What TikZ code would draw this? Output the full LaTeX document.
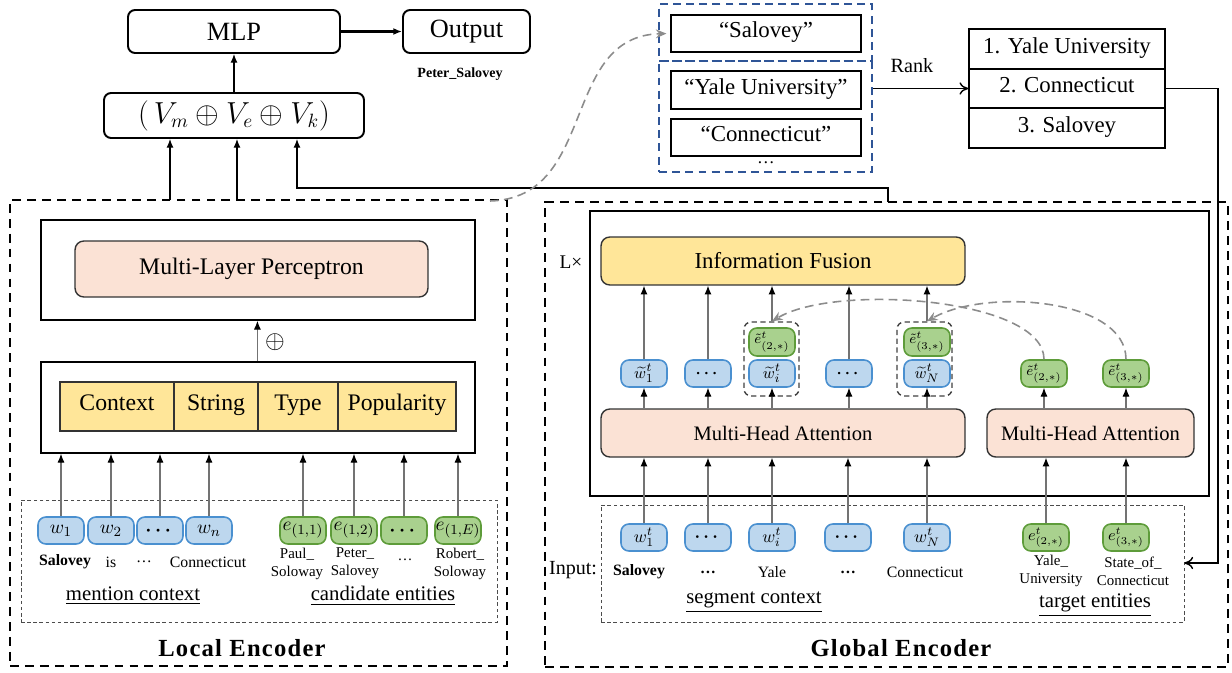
\documentclass[tikz,border=0pt]{standalone}
\usepackage{amsmath}
\usepackage{fontspec}
\setmainfont{Liberation Serif}
\usetikzlibrary{arrows.meta,calc}

\definecolor{tokblue}{HTML}{BDD7EE}
\definecolor{tokblueline}{HTML}{4A90D0}
\definecolor{tokgreen}{HTML}{A9D18E}
\definecolor{tokgreenline}{HTML}{5E9C3A}
\definecolor{fillyellow}{HTML}{FFE699}
\definecolor{fillpink}{HTML}{FBE2D5}
\definecolor{candblue}{HTML}{2F5597}
\definecolor{linkgray}{HTML}{8C8C8C}

\newcommand\fs[1]{\fontsize{#1}{#1}\selectfont}
\newcommand\fsz[2]{\fontsize{#1}{#2}\selectfont}

\tikzset{
  evenline/.style={text height=0.72em, text depth=0.22em},
  topbox/.style={draw, line width=1.1pt, rounded corners=4pt, inner sep=0pt, font=\fs{15}},
  candbox/.style={draw, line width=1.2pt, inner sep=0pt, minimum width=3.8cm, minimum height=0.75cm, font=\fs{13}, evenline},
  candframe/.style={draw=candblue, line width=1.2pt, dash pattern=on 4.5pt off 3pt, inner sep=0pt, minimum width=4.26cm},
  rankrow/.style={draw, line width=0.8pt, minimum width=3.92cm, minimum height=0.8cm, inner sep=0pt, font=\fs{13}, evenline},
  encframe/.style={draw, line width=1.3pt, dash pattern=on 5pt off 3.5pt, inner sep=0pt},
  solidframe/.style={draw, line width=0.9pt, inner sep=0pt},
  pinkbox/.style={draw=black!80, line width=0.8pt, fill=fillpink, rounded corners=5pt, inner sep=0pt},
  fusebox/.style={draw=black!80, line width=0.8pt, fill=fillyellow, rounded corners=5pt, inner sep=0pt},
  yellowcell/.style={draw=black!80, line width=0.7pt, fill=fillyellow, minimum height=0.98cm, inner sep=0pt, font=\fs{13.5}, evenline},
  intok/.style={rounded corners=4.5pt, line width=0.9pt, minimum width=0.92cm, minimum height=0.54cm, inner sep=0pt},
  btok/.style={intok, draw=tokblueline, fill=tokblue},
  gtok/.style={intok, draw=tokgreenline, fill=tokgreen},
  inbox/.style={draw=black!70, line width=0.5pt, dash pattern=on 2pt off 1.5pt, inner sep=0pt},
  grpbox/.style={draw=black!75, line width=0.8pt, dash pattern=on 3pt off 2pt, rounded corners=4pt, minimum width=1.1cm, minimum height=1.48cm, inner sep=0pt},
  lbl/.style={inner sep=0pt, align=center, font=\fs{9}},
  elbl/.style={inner sep=0pt, align=center, font=\fsz{8.5}{10.2}},
  seclbl/.style={inner sep=0pt, font=\fs{11.8}},
  title/.style={inner sep=0pt, font=\fs{14}\bfseries\addfontfeatures{LetterSpace=5}},
  arr/.style={draw=black!55, line width=0.6pt, -{Latex[length=5pt,width=4pt,color=black]}},
  toparr/.style={line width=0.7pt, -{Latex[length=5pt,width=4pt]}},
  openarr/.style={line width=0.8pt, -{To[length=5pt,width=7pt]}},
  link/.style={draw=linkgray, line width=0.9pt, dash pattern=on 5pt off 3pt, -{Stealth[length=6pt,width=5pt]}}
}

\begin{document}
\begin{tikzpicture}[x=0.02cm,y=-0.02cm]
\useasboundingbox (0,0) rectangle (1232,673);

% ---------- prediction head ----------
\node[topbox, minimum width=4.24cm, minimum height=0.86cm] (mlp) at (234,31.5) {MLP};
\node[topbox, minimum width=2.54cm, minimum height=0.86cm] (out) at (466.5,31.5) {Output};
\draw[toparr, line width=1.4pt] (mlp) -- (out);
\node[inner sep=0pt, font=\fs{8}\bfseries] (pred) at (460,74) {Peter\_Salovey};
\node[topbox, minimum width=5.2cm, minimum height=0.9cm, font=\fs{16}] (vec) at (234,115.5) {$(\,V_m \oplus V_e \oplus V_k)$};
\draw[toparr] (vec) -- (mlp);

% ---------- candidate strings and ranking ----------
\node[candframe, minimum height=1.14cm] (ctop) at (765.5,32.5) {};
\node[candframe, minimum height=2.22cm] (cbot) at (765.5,116.5) {};
\node[candbox] (csal) at (766,33.5) {“Salovey”};
\node[candbox] (cyale) at (766,90) {“Yale University”};
\node[candbox] (cconn) at (766,137.5) {“Connecticut”};
\node[inner sep=0pt, font=\fs{10}] (cdots) at (766,163) {…};
\node[inner sep=0pt, font=\fs{11.5}] (ranklbl) at (912,66) {Rank};
\node[rankrow] (r1) at (1067,49) {1. Yale University};
\node[rankrow] (r2) at (1067,88.5) {2. Connecticut};
\node[rankrow] (r3) at (1067,128) {3. Salovey};
\draw[openarr] (r2.west -| cbot.east) -- (r2.west);

% ---------- local encoder ----------
\node[encframe, minimum width=9.94cm, minimum height=9.32cm] (lenc) at (258.5,433) {};
\node[solidframe, minimum width=8.68cm, minimum height=2cm] (lmlpc) at (258,270) {};
\node[pinkbox, minimum width=7.06cm, minimum height=1.12cm, font=\fs{13.5}] (lmlp) at (251.5,269) {Multi-Layer Perceptron};
\node[solidframe, minimum width=8.68cm, minimum height=1.82cm] (feat) at (258,407.5) {};
\node[yellowcell, minimum width=2.28cm] (fctx) at (117,406.5) {Context};
\node[yellowcell, minimum width=1.68cm] (fstr) at (216,406.5) {String};
\node[yellowcell, minimum width=1.6cm] (ftyp) at (298,406.5) {Type};
\node[yellowcell, minimum width=2.36cm] (fpop) at (397,406.5) {Popularity};
\draw[arr] (feat.north -| ftyp.west) -- (lmlpc.south -| ftyp.west);
\node[inner sep=0pt, font=\fs{14}] (cat) at (275,342) {$\oplus$};

\node[inbox, minimum width=9.52cm, minimum height=2.44cm] (lin) at (259,561) {};
\begin{scope}[every node/.append style={font=\fs{11}}]
\node[btok] (w1) at (61,530.5) {$w_1$};
\node[btok] (w2) at (111,530.5) {$w_2$};
\node[btok] (wd) at (160,530.5) {$\boldsymbol{\cdots}$};
\node[btok] (wn) at (209,530.5) {$w_n$};
\node[gtok] (e1) at (303,530.5) {$e_{(1,1)}$};
\node[gtok] (e2) at (354,530.5) {$e_{(1,2)}$};
\node[gtok] (ed) at (404,530.5) {$\boldsymbol{\cdots}$};
\node[gtok] (eE) at (458,530.5) {$e_{(1,E)}$};
\end{scope}
\foreach \t in {w1,w2,wd,wn,e1,e2,ed,eE}
  \draw[arr] (\t) -- (\t |- feat.south);

\node[lbl, font=\fs{9}\bfseries] (lw1) at (65,562) {Salovey};
\node[lbl] (lw2) at (111,562) {is};
\node[lbl] (lwd) at (144,562) {…};
\node[lbl] (lwn) at (208,562) {Connecticut};
\node[elbl] (le1) at (297,563.5) {Paul\_\\Soloway};
\node[elbl] (le2) at (355,563.5) {Peter\_\\Salovey};
\node[elbl] (led) at (405,560) {…};
\node[elbl] (leE) at (460,563.5) {Robert\_\\Soloway};
\node[seclbl] (mctx) at (133,596) {\underline{mention context}};
\node[seclbl] (cent) at (383,596) {\underline{candidate entities}};
\node[title] (ltitle) at (242,648) {Local Encoder};

% ---------- global encoder ----------
\node[encframe, minimum width=13.66cm, minimum height=9.3cm] (genc) at (886.5,434.5) {};
\node[solidframe, minimum width=12.38cm, minimum height=5.7cm] (gblk) at (899.5,353.5) {};
\node[inner sep=0pt, font=\fs{11}] (rep) at (571,262) {L×};
\node[fusebox, minimum width=7.28cm, minimum height=0.96cm, font=\fs{13}] (fuse) at (783,261) {Information Fusion};
\node[pinkbox, minimum width=7.28cm, minimum height=0.96cm, font=\fs{11.7}] (mha1) at (783,433) {Multi-Head Attention};
\node[pinkbox, minimum width=4.14cm, minimum height=0.96cm, font=\fs{11.7}] (mha2) at (1090.5,433) {Multi-Head Attention};

\begin{scope}[every node/.append style={font=\fs{9.5}}]
\node[btok] (h1) at (644,373.5) {${\widetilde{w}}^{t}_{1}$};
\node[btok] (hd1) at (708,373.5) {$\boldsymbol{\cdots}$};
\node[btok] (hi) at (772,373.5) {${\widetilde{w}}^{t}_{i}$};
\node[btok] (hd2) at (849,373.5) {$\boldsymbol{\cdots}$};
\node[btok] (hN) at (927,373.5) {${\widetilde{w}}^{t}_{N}$};
\end{scope}
\begin{scope}[every node/.append style={font=\fs{8.5}}]
\node[gtok] (he2) at (1044,373.5) {${\tilde{e}}^{t}_{(2,*)}$};
\node[gtok] (he3) at (1126,373.5) {${\tilde{e}}^{t}_{(3,*)}$};
\node[gtok, minimum height=0.56cm] (fe2) at (772,342) {${\tilde{e}}^{t}_{(2,*)}$};
\node[gtok, minimum height=0.56cm] (fe3) at (927,342) {${\tilde{e}}^{t}_{(3,*)}$};
\end{scope}
\node[grpbox] (grp1) at (771.5,359) {};
\node[grpbox] (grp2) at (924.5,359) {};

\foreach \t in {h1,hd1,hi,hd2,hN}
  \draw[arr] (\t |- mha1.north) -- (\t);
\foreach \t in {he2,he3}
  \draw[arr] (\t |- mha2.north) -- (\t);
\foreach \t in {h1,hd1,hd2}
  \draw[arr] (\t) -- (\t |- fuse.south);
\draw[arr] (grp1.north -| hi) -- (hi |- fuse.south);
\draw[arr] (grp2.north -| hN) -- (hN |- fuse.south);
\draw[link] (he2.north) .. controls (1044,298) and (835,283) .. (grp1.north -| hi);
\draw[link] (he3.north) .. controls (1126,298) and (985,288) .. (grp2.north -| hN);

\node[inbox, minimum width=11.66cm, minimum height=2.34cm] (gin) at (892.5,563.5) {};
\begin{scope}[every node/.append style={font=\fs{10}}]
\node[btok] (x1) at (644,537.5) {$w^{t}_{1}$};
\node[btok] (xd1) at (708,537.5) {$\boldsymbol{\cdots}$};
\node[btok] (xi) at (772,537.5) {$w^{t}_{i}$};
\node[btok] (xd2) at (848,537.5) {$\boldsymbol{\cdots}$};
\node[btok] (xN) at (927,537.5) {$w^{t}_{N}$};
\end{scope}
\begin{scope}[every node/.append style={font=\fs{9}}]
\node[gtok] (xe2) at (1046,537.5) {$e^{t}_{(2,*)}$};
\node[gtok] (xe3) at (1126,537.5) {$e^{t}_{(3,*)}$};
\end{scope}
\foreach \t in {x1,xd1,xi,xd2,xN}
  \draw[arr] (\t) -- (\t |- mha1.south);
\foreach \t in {xe2,xe3}
  \draw[arr] (\t) -- (\t |- mha2.south);

\node[inner sep=0pt, font=\fs{11.4}] (inlbl) at (573,570) {Input:};
\node[lbl, font=\fs{9}\bfseries] (gx1) at (639,572) {Salovey};
\node[lbl, font=\fs{9}\bfseries] (gxd1) at (708,572) {…};
\node[lbl] (gxi) at (772,572) {Yale};
\node[lbl, font=\fs{9}\bfseries] (gxd2) at (848,572) {…};
\node[lbl] (gxN) at (925,572) {Connecticut};
\node[elbl] (gxe2) at (1051,571) {Yale\_\\University};
\node[elbl] (gxe3) at (1133,571) {State\_of\_\\Connecticut};
\node[seclbl] (sctx) at (754,602) {\underline{segment context}};
\node[seclbl] (tent) at (1095,605) {\underline{target entities}};
\node[title] (gtitle) at (901,648) {Global Encoder};

% ---------- links between the parts ----------
\coordinate (vmfoot) at (170,200);
\coordinate (vefoot) at (237,200);
\draw[toparr] (vmfoot) -- (vmfoot |- vec.south);
\draw[toparr] (vefoot) -- (vefoot |- vec.south);
\coordinate (vkfoot) at (888,202);
\coordinate (vkbend) at (297,188);
\draw[toparr] (vkfoot) |- (vkbend) -- (vkbend |- vec.south);

\coordinate (lk) at (490,201);
\draw[link, shorten >=2pt] (lk) .. controls (598,198) and (560,36) .. (csal.west);

\coordinate (fb) at (1218,563);
\draw[openarr] (r2.east) -| (fb) -- (fb -| gin.east);
\end{tikzpicture}
\end{document}
